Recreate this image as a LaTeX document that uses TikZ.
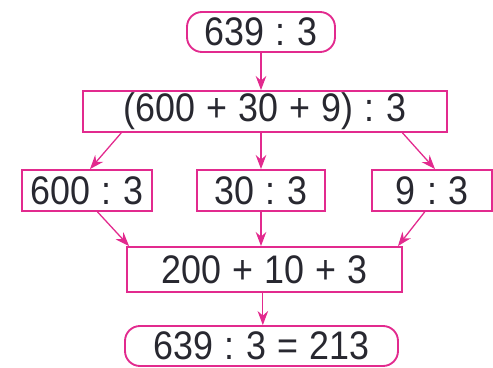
\documentclass[tikz,border=0pt]{standalone}
\usepackage{fontspec}
\setmainfont[FakeStretch=0.9]{Liberation Sans}
\usepackage{xcolor}
\usepackage{tikz}
\usetikzlibrary{arrows.meta,positioning,calc}
\definecolor{divpink}{RGB}{226,42,142}
\definecolor{divink}{RGB}{40,40,48}
\frenchspacing
\newcommand{\divfont}{\fontsize{34}{40}\selectfont\spaceskip=0.28em\relax}

\begin{document}
\begin{tikzpicture}[x=0.03cm, y=-0.03cm,
  font=\divfont, text=divink,
  stepbox/.style={draw=divpink, line width=1.6pt, inner sep=0pt, fill=white},
  endbox/.style={stepbox, rounded corners=0.45cm},
  flow/.style={draw=divpink, line width=1.1pt, -{Stealth[length=12pt,width=9pt]}}]

\useasboundingbox (0,0) rectangle (493,368);

% ==========================================
% Start and split
% ==========================================
\node[endbox, minimum width=4.44cm, minimum height=1.2cm] (task) at (261,32) {639 : 3};
\node[stepbox, minimum width=10.92cm, minimum height=1.23cm] (split) at (265,111.5) {(600 + 30 + 9) : 3};

% ==========================================
% Partial divisions
% ==========================================
\node[stepbox, minimum width=3.9cm, minimum height=1.23cm] (hund) at (87,190.5) {600 : 3};
\node[stepbox, minimum width=3.84cm, minimum height=1.23cm] (tens) at (261,190.5) {30 : 3};
\node[stepbox, minimum width=3.6cm, minimum height=1.23cm] (ones) at (432,190.5) {9 : 3};

% ==========================================
% Sum and result
% ==========================================
\node[stepbox, minimum width=8.25cm, minimum height=1.35cm] (sum) at (264.5,269.5) {200 + 10 + 3};
\node[endbox, minimum width=8.19cm, minimum height=1.2cm] (result) at (261.5,346) {639 : 3 = 213};

% ==========================================
% Connectors
% ==========================================
\draw[flow] (task.south) -- (task.south |- split.north);
\draw[flow] ($(split.south west)!0.107!(split.south east)$) -- ([xshift=0.09cm]hund.north);
\draw[flow] (tens.north |- split.south) -- (tens.north);
\draw[flow] ($(split.south west)!0.876!(split.south east)$) -- ([xshift=0.09cm]ones.north);

\draw[flow] ($(hund.south west)!0.58!(hund.south east)$) -- ([xshift=0.09cm]sum.north west);
\draw[flow] (tens.south) -- (tens.south |- sum.north);
\draw[flow] ($(ones.south west)!0.44!(ones.south east)$) -- ([xshift=-0.15cm]sum.north east);

\draw[flow] ([xshift=-0.05cm]sum.south) -- ([xshift=-0.05cm]sum.south |- result.north);

\end{tikzpicture}
\end{document}
